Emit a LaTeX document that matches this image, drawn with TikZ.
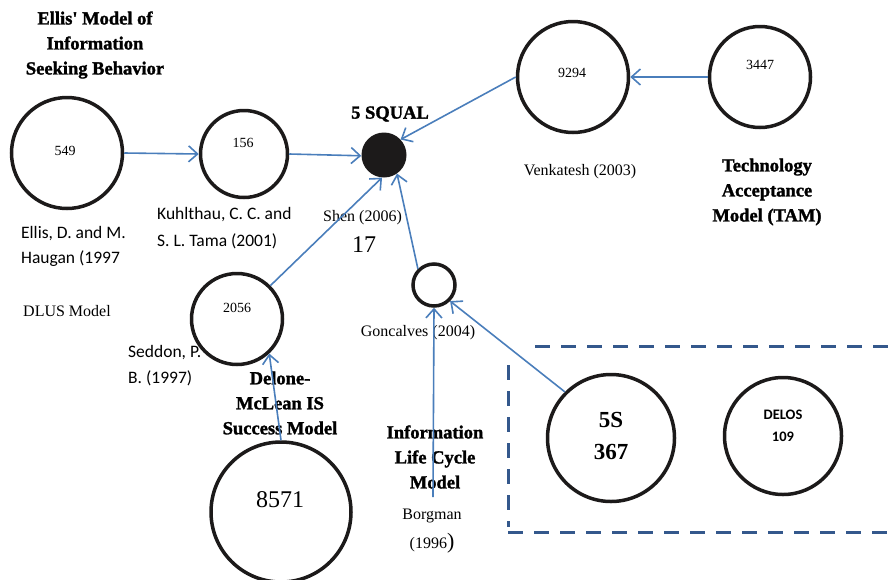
\documentclass[tikz,border=0pt]{standalone}
\usepackage{fontspec}
\setmainfont{Liberation Serif}
\newfontfamily\carl{Carlito}
\newfontfamily\heavyfont[FakeBold=1.6]{Liberation Serif Bold}
\usetikzlibrary{arrows.meta}
\definecolor{arrowblue}{RGB}{74,126,187}
\definecolor{boxblue}{RGB}{52,88,140}
\definecolor{ringblack}{RGB}{28,26,26}
\tikzset{
 circ/.style={circle, draw=ringblack, line width=3.5pt, inner sep=0pt},
 arr/.style={draw=arrowblue, line width=1.6pt, -{Straight Barb[length=9pt,width=16pt,line width=1.6pt]}},
 heading/.style={align=center, font=\heavyfont\fontsize{18.5}{25}\selectfont, inner sep=0pt},
 serif/.style={align=center, font=\fontsize{16}{20}\selectfont, inner sep=0pt},
 sans/.style={align=left, font=\carl\fontsize{17.5}{26}\selectfont, inner sep=0pt},
 num/.style={font=\fontsize{14}{16}\selectfont, inner sep=0pt},
 dashline/.style={draw=boxblue, line width=3pt, dash pattern=on 15pt off 11pt},
}
\begin{document}
\begin{tikzpicture}[x=1pt,y=-1pt]
\useasboundingbox (0,0) rectangle (896,579);

% dashed box
\draw[dashline] (535,346) -- (896,346);
\draw[dashline] (508,365) -- (508,527);
\draw[dashline] (508,532) -- (896,532);

% circles
\node[circ, minimum size=111pt] (c549) at (67,153) {};
\node[circ, minimum size=87pt] (c156) at (244,154) {};
\node[circle, fill=ringblack, inner sep=0pt, minimum size=45pt] (c5sq) at (384,155) {};
\node[circ, minimum size=111pt] (c9294) at (573,77) {};
\node[circ, minimum size=101pt] (c3447) at (760,77) {};
\node[circ, minimum size=91pt] (c2056) at (237,319) {};
\node[circ, minimum size=42pt] (csmall) at (434,285) {};
\node[circ, minimum size=140pt] (c8571) at (281,512) {};
\node[circ, minimum size=127pt] (c5s) at (611,438) {};
\node[circ, minimum size=117pt] (cdelos) at (783,436) {};

% numbers inside circles
\node[num] (t549) at (65,151) {549};
\node[num] (t156) at (243,143) {156};
\node[num] (t9294) at (572,73) {9294};
\node[num] (t3447) at (760,65) {3447};
\node[num] (t2056) at (237,308) {2056};
\node[font=\fontsize{24}{26}\selectfont, inner sep=0pt] (t8571) at (280,500) {8571};
\node[align=center, font=\fontsize{23}{32}\selectfont\bfseries, inner sep=0pt] (t5s) at (611,436) {5S\\367};
\node[align=center, font=\carl\fontsize{14.5}{22}\selectfont\bfseries, inner sep=0pt] (tdelos) at (783,426) {DELOS\\109};

% headings
\node[heading] (hellis) at (95,45) {Ellis\char"27\ Model of\\Information\\Seeking Behavior};
\node[heading] (hsqual) at (390,114) {5 SQUAL};
\node[heading] (htam) at (767,192) {Technology\\Acceptance\\Model (TAM)};
\node[heading] (hdelone) at (280,403) {Delone-\\McLean IS\\Success Model};
\node[heading] (hilc) at (435,457) {Information\\Life Cycle\\Model};

% author labels
\node[sans, anchor=west] (lkuhl) at (157,228) {Kuhlthau, C. C. and\\[1pt]S. L. Tama (2001)};
\node[sans, anchor=west, font=\carl\fontsize{17.5}{25}\selectfont] (lellis) at (21,246) {Ellis, D. and M.\\Haugan (1997};
\node[serif, anchor=west] (ldlus) at (23,311) {DLUS Model};
\node[sans, anchor=west] (lsed) at (128,366) {Seddon, P.\\B. (1997)};
\node[serif, anchor=west] (lshen) at (323,218) {Shen (2006)};
\node[font=\fontsize{24}{26}\selectfont, inner sep=0pt] (l17) at (364,245) {17};
\node[serif] (lvenk) at (580,172) {Venkatesh (2003)};
\node[serif] (lgon) at (418,333) {Goncalves (2004)};
\node[serif, font=\fontsize{16}{29}\selectfont] (lborg) at (432,531) {Borgman\\(1996{\fontsize{22}{22}\selectfont)}};

% connectors
\coordinate (borg) at (433,497);
\draw[arr] (c549.0) -- (c156.180);
\draw[arr] (c156.0) -- (c5sq.182);
\draw[arr] (c9294.180) -- (c5sq.43);
\draw[arr] (c3447.180) -- (c9294.0);
\draw[arr] (c2056.45) -- (c5sq.265);
\draw[arr] (csmall.135) -- (c5sq.305);
\draw[arr] (c8571.90) -- (c2056.313);
\draw[arr] (borg) -- (csmall.270);
\draw[arr] (c5s.135) -- (csmall.315);
\end{tikzpicture}
\end{document}
